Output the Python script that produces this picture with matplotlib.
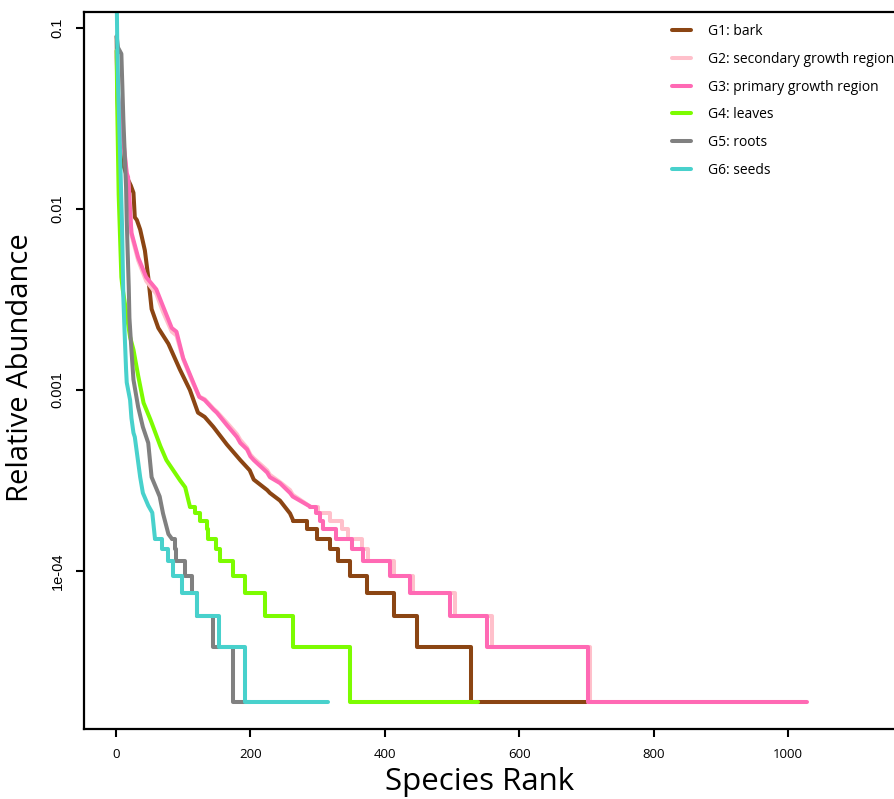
import matplotlib
matplotlib.use("Agg")
import matplotlib.pyplot as plt
from matplotlib.ticker import NullLocator

# rank-abundance data
# head = smooth part (polyline), tail = count steps (steps-post)
g1_rank = [1, 2, 3, 5, 8, 12, 18, 22, 26, 28, 31, 36, 43, 48, 53, 63, 78, 95, 110, 122,
           132, 145, 165, 185, 199, 205, 225, 229, 244, 259]
g1_abund = [0.09, 0.045, 0.035, 0.027, 0.021, 0.017, 0.0145, 0.0135, 0.0123, 0.009, 0.0087,
            0.0077, 0.0059, 0.0042, 0.0028, 0.0022, 0.0018, 0.0013, 0.001, 7.5e-4, 7.1e-4,
            6.25e-4, 5.0e-4, 4.1e-4, 3.6e-4, 3.2e-4, 2.8e-4, 2.7e-4, 2.45e-4, 2.08e-4]
g1_step_rank = [264, 284, 299, 318, 331, 348, 373, 413, 448, 528, 700]
g1_step_abund = [1.89e-4, 1.70e-4, 1.51e-4, 1.32e-4, 1.13e-4, 9.44e-5, 7.55e-5, 5.66e-5,
                 3.78e-5, 1.89e-5, 1.89e-5]

g2_rank = [1, 2, 4, 6, 8, 10, 12, 14, 16, 18, 23, 33, 45, 60, 70, 83, 90, 100, 115, 124,
           132, 145, 150, 165, 180, 185, 195, 200, 205, 225, 229, 244, 259, 263, 289]
g2_abund = [0.07, 0.045, 0.038, 0.032, 0.028, 0.024, 0.021, 0.018, 0.0155, 0.0145, 0.0072,
            0.0052, 0.0040, 0.0034, 0.0027, 0.0021, 0.0020, 0.00148, 0.00108, 9.2e-4, 8.9e-4,
            7.9e-4, 7.6e-4, 6.6e-4, 5.7e-4, 5.3e-4, 4.8e-4, 4.4e-4, 4.2e-4, 3.6e-4, 3.4e-4,
            3.1e-4, 2.8e-4, 2.64e-4, 2.27e-4]
g2_step_rank = [289, 300, 318, 336, 346, 366, 375, 414, 442, 504, 559, 705, 1020]
g2_step_abund = [2.27e-4, 2.08e-4, 1.89e-4, 1.70e-4, 1.51e-4, 1.32e-4, 1.13e-4, 9.44e-5,
                 7.55e-5, 5.66e-5, 3.78e-5, 1.89e-5, 1.89e-5]

g3_rank = [1, 2, 4, 6, 8, 10, 12, 14, 16, 18, 23, 33, 45, 60, 70, 83, 90, 100, 115, 124,
           132, 145, 150, 165, 180, 185, 195, 200, 205, 225, 229, 244, 259, 263, 289]
g3_abund = [0.075, 0.047, 0.04, 0.034, 0.029, 0.025, 0.0218, 0.0187, 0.0158, 0.015, 0.0074,
            0.0054, 0.0042, 0.0036, 0.0029, 0.0022, 0.0021, 0.0015, 0.0011, 9.15e-4, 8.8e-4,
            7.8e-4, 7.5e-4, 6.4e-4, 5.5e-4, 5.1e-4, 4.7e-4, 4.3e-4, 4.1e-4, 3.5e-4, 3.3e-4,
            3.06e-4, 2.7e-4, 2.58e-4, 2.27e-4]
g3_step_rank = [289, 298, 304, 308, 328, 351, 368, 408, 437, 497, 552, 703, 1028]
g3_step_abund = [2.27e-4, 2.08e-4, 1.89e-4, 1.70e-4, 1.51e-4, 1.32e-4, 1.13e-4, 9.44e-5,
                 7.55e-5, 5.66e-5, 3.78e-5, 1.89e-5, 1.89e-5]

g4_rank = [1, 2, 3, 4, 8, 10, 21, 26, 33, 41, 51, 53, 66, 75, 95, 103]
g4_abund = [0.075, 0.034, 0.02, 0.012, 0.0042, 0.0036, 0.00196, 0.00167, 0.0012, 8.5e-4,
            6.9e-4, 6.6e-4, 4.9e-4, 4.1e-4, 3.18e-4, 2.9e-4]
g4_step_rank = [110, 118, 125, 135, 137, 149, 155, 174, 192, 222, 263, 348, 539]
g4_step_abund = [2.27e-4, 2.08e-4, 1.89e-4, 1.70e-4, 1.51e-4, 1.32e-4, 1.13e-4, 9.44e-5,
                 7.55e-5, 5.66e-5, 3.78e-5, 1.89e-5, 1.89e-5]

g5_rank = [1, 3, 8, 11, 15, 16, 17, 19, 20, 23, 26, 33, 40, 48, 53, 65, 70, 78]
g5_abund = [0.09, 0.078, 0.072, 0.031, 0.0132, 0.0087, 0.0065, 0.0037, 0.0025, 0.00166,
            0.00114, 8.05e-4, 6.25e-4, 5.1e-4, 3.3e-4, 2.58e-4, 2.08e-4, 1.6e-4]
g5_step_rank = [83, 88, 90, 103, 113, 120, 145, 174, 200]
g5_step_abund = [1.51e-4, 1.32e-4, 1.13e-4, 9.44e-5, 7.55e-5, 5.66e-5, 3.78e-5, 1.89e-5, 1.89e-5]

g6_rank = [1, 2, 3, 4, 5, 6, 7, 8, 9, 11, 13, 15, 16, 21, 23, 26, 28, 36, 40, 48, 54]
g6_abund = [0.16, 0.075, 0.05, 0.037, 0.028, 0.021, 0.015, 0.011, 0.008, 0.0032, 0.002,
            0.0013, 0.0011, 8.8e-4, 7e-4, 5.8e-4, 5.5e-4, 3.3e-4, 2.7e-4, 2.3e-4, 2.1e-4]
g6_step_rank = [58, 68, 78, 85, 98, 120, 154, 192, 316]
g6_step_abund = [1.51e-4, 1.32e-4, 1.13e-4, 9.44e-5, 7.55e-5, 5.66e-5, 3.78e-5, 1.89e-5, 1.89e-5]

labels = ["G1: bark", "G2: secondary growth region", "G3: primary growth region",
          "G4: leaves", "G5: roots", "G6: seeds"]
colors = ["#8B4513", "#FFC0CB", "#FF69B4", "#7CFC00", "#808080", "#48D1CC"]

series = [(g1_rank, g1_abund, g1_step_rank, g1_step_abund),
          (g2_rank, g2_abund, g2_step_rank, g2_step_abund),
          (g3_rank, g3_abund, g3_step_rank, g3_step_abund),
          (g4_rank, g4_abund, g4_step_rank, g4_step_abund),
          (g5_rank, g5_abund, g5_step_rank, g5_step_abund),
          (g6_rank, g6_abund, g6_step_rank, g6_step_abund)]

fig = plt.figure(figsize=(8.94, 7.99), dpi=100)
ax = fig.add_axes([84/894, 70/799, 816/894, 717/799])

lw = 2.9
for (hr, ha, sr, sa), lab, col in zip(series, labels, colors):
    ax.plot(hr + [sr[0]], ha + [sa[0]], color=col, lw=lw, solid_capstyle='round',
            solid_joinstyle='round', label=lab)
    ax.plot(sr, sa, color=col, lw=lw, drawstyle='steps-post', solid_capstyle='round',
            solid_joinstyle='round')

ax.set_yscale('log')
ax.set_xlim(-47.6, 1166.7)
ax.set_ylim(1.34e-5, 0.1226)

for s in ['top', 'left', 'bottom']:
    ax.spines[s].set_linewidth(1.6)
ax.spines['right'].set_visible(False)

ax.set_xticks([0, 200, 400, 600, 800, 1000])
ax.set_xticklabels(['0', '200', '400', '600', '800', '1000'], family='Open Sans', fontsize=9.5)
ax.set_yticks([0.1, 0.01, 0.001, 1e-4])
ax.set_yticklabels(['0.1', '0.01', '0.001', '1e-04'], rotation=90, va='center',
                   family='Liberation Sans', fontsize=10.5)
ax.yaxis.set_minor_locator(NullLocator())
ax.tick_params(axis='both', length=6, width=1.5)
ax.tick_params(axis='x', pad=8)
ax.tick_params(axis='y', pad=8)

fig.text(21/894, 1 - 368/799, "Relative Abundance", rotation=90, ha='center', va='center',
         family='Open Sans', fontsize=21)
fig.text(480/894, 1 - 790/799, "Species Rank", ha='center', va='baseline',
         family='Open Sans', fontsize=22.5)

handles = ax.get_lines()[0::2]
ax.legend(handles, labels, loc='upper left', bbox_to_anchor=(672/894, 1 - 24/799),
          bbox_transform=fig.transFigure, frameon=False, borderpad=0, borderaxespad=0,
          handlelength=1.4, handletextpad=1.2, labelspacing=0.92,
          prop={'family': 'Open Sans', 'size': 10})

fig.savefig("out.png", dpi=100)
